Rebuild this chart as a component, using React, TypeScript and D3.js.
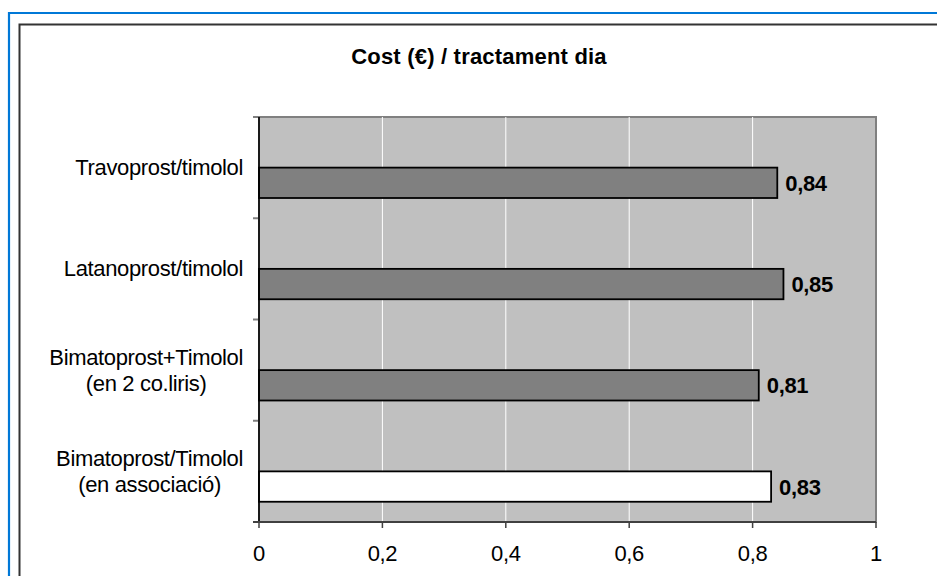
import { useEffect, useRef } from "react";
import * as d3 from "d3";

const categories = [
  ["Travoprost/timolol"],
  ["Latanoprost/timolol"],
  ["Bimatoprost+Timolol", "(en 2 co.liris)"],
  ["Bimatoprost/Timolol", "(en associació)"],
];
const costs = [0.84, 0.85, 0.81, 0.83];
const barFills = ["#808080", "#808080", "#808080", "#ffffff"];
const xTicks = [0, 0.2, 0.4, 0.6, 0.8, 1];
const title = "Cost (€) / tractament dia";

const W = 937;
const H = 576;
const FONT = "'Liberation Sans', Arial, sans-serif";

export default function App() {
  const svgRef = useRef<SVGSVGElement | null>(null);

  useEffect(() => {
    if (!svgRef.current) return;
    const svg = d3.select(svgRef.current);
    svg.selectAll("*").remove();

    const plot = { left: 259, right: 876, top: 117, bottom: 522 };
    const keys = categories.map((c) => c.join(" "));
    const x = d3.scaleLinear().domain([0, 1]).range([plot.left, plot.right]);
    const y = d3.scaleBand<string>().domain(keys).range([plot.top, plot.bottom]).padding(0);
    const fmt = (v: number) => String(v).replace(".", ",");
    const txt = (sel: any, bold = false) =>
      sel
        .style("font-family", FONT)
        .style("font-size", "22px")
        .style("letter-spacing", "-0.35px")
        .style("font-weight", bold ? "bold" : "normal");

    // outer frames
    svg.append("rect").attr("width", W).attr("height", H).attr("fill", "#fff");
    svg
      .append("path")
      .attr("d", `M9,${H + 2}V13H${W + 2}`)
      .attr("fill", "none")
      .attr("stroke", "#0078d7")
      .attr("stroke-width", 2.2);
    svg
      .append("path")
      .attr("d", `M19.5,${H + 2}V24.5H${W + 2}`)
      .attr("fill", "none")
      .attr("stroke", "#333")
      .attr("stroke-width", 2);

    // title
    svg
      .append("text")
      .attr("x", 479)
      .attr("y", 64)
      .attr("text-anchor", "middle")
      .style("font-family", FONT)
      .style("font-size", "22px")
      .style("font-weight", "bold")
      .style("letter-spacing", "0.2px")
      .text(title);

    // plot area
    svg
      .append("rect")
      .attr("x", plot.left)
      .attr("y", plot.top)
      .attr("width", plot.right - plot.left)
      .attr("height", plot.bottom - plot.top)
      .attr("fill", "#c0c0c0")
      .attr("stroke", "#808080")
      .attr("stroke-width", 2);

    svg
      .append("g")
      .selectAll("line")
      .data(xTicks.filter((t) => t > 0 && t < 1))
      .join("line")
      .attr("x1", (d) => x(d))
      .attr("x2", (d) => x(d))
      .attr("y1", plot.top)
      .attr("y2", plot.bottom)
      .attr("stroke", "#fff")
      .attr("stroke-width", 1);

    // bars
    const bh = y.bandwidth() * 0.3;
    svg
      .append("g")
      .selectAll("rect")
      .data(costs)
      .join("rect")
      .attr("x", x(0))
      .attr("y", (_d, i) => (y(keys[i]) ?? 0) + y.bandwidth() / 2)
      .attr("width", (d) => x(d) - x(0))
      .attr("height", bh)
      .attr("fill", (_d, i) => barFills[i])
      .attr("stroke", "#000")
      .attr("stroke-width", 1.8);

    txt(
      svg
        .append("g")
        .selectAll("text")
        .data(costs)
        .join("text")
        .attr("x", (d) => x(d) + 8)
        .attr("y", (_d, i) => (y(keys[i]) ?? 0) + y.bandwidth() / 2 + bh / 2 + 8),
      true
    ).text((d: number) => fmt(d));

    // y axis
    const bounds = keys.map((k) => y(k) ?? 0).concat([plot.bottom]);
    svg
      .append("g")
      .selectAll("line")
      .data(bounds)
      .join("line")
      .attr("x1", plot.left - 6)
      .attr("x2", plot.left)
      .attr("y1", (d) => d)
      .attr("y2", (d) => d)
      .attr("stroke", "#808080")
      .attr("stroke-width", 2);
    svg
      .append("line")
      .attr("x1", plot.left)
      .attr("x2", plot.left)
      .attr("y1", plot.top)
      .attr("y2", plot.bottom)
      .attr("stroke", "#000")
      .attr("stroke-width", 1.6);

    // x axis
    svg
      .append("line")
      .attr("x1", plot.left - 6)
      .attr("x2", plot.right)
      .attr("y1", plot.bottom)
      .attr("y2", plot.bottom)
      .attr("stroke", "#404040")
      .attr("stroke-width", 2);
    svg
      .append("g")
      .selectAll("line")
      .data(xTicks)
      .join("line")
      .attr("x1", (d) => x(d))
      .attr("x2", (d) => x(d))
      .attr("y1", plot.bottom)
      .attr("y2", plot.bottom + 6)
      .attr("stroke", "#404040")
      .attr("stroke-width", 1.5);
    txt(
      svg
        .append("g")
        .selectAll("text")
        .data(xTicks)
        .join("text")
        .attr("x", (d) => x(d))
        .attr("y", 561)
        .attr("text-anchor", "middle")
    ).text((d: number) => fmt(d));

    // category labels: block right-aligned to 243, lines centred inside it
    const lineH = 26;
    categories.forEach((lines, i) => {
      const cy = (y(keys[i]) ?? 0) + y.bandwidth() / 2;
      const t = txt(svg.append("text").attr("text-anchor", "middle"));
      const spans = lines.map((ln, j) =>
        t
          .append("tspan")
          .attr("y", cy + 7.5 + (j - (lines.length - 1) / 2) * lineH)
          .text(ln)
      );
      const maxW = Math.max(...spans.map((s: any) => (s.node() as SVGTSpanElement).getComputedTextLength()));
      spans.forEach((s: any) => s.attr("x", 243 - maxW / 2));
    });
  }, []);

  return (
    <div style={{ position: "absolute", left: 0, top: 0, width: W, height: H }}>
      <svg ref={svgRef} width={W} height={H} style={{ display: "block" }} />
    </div>
  );
}
